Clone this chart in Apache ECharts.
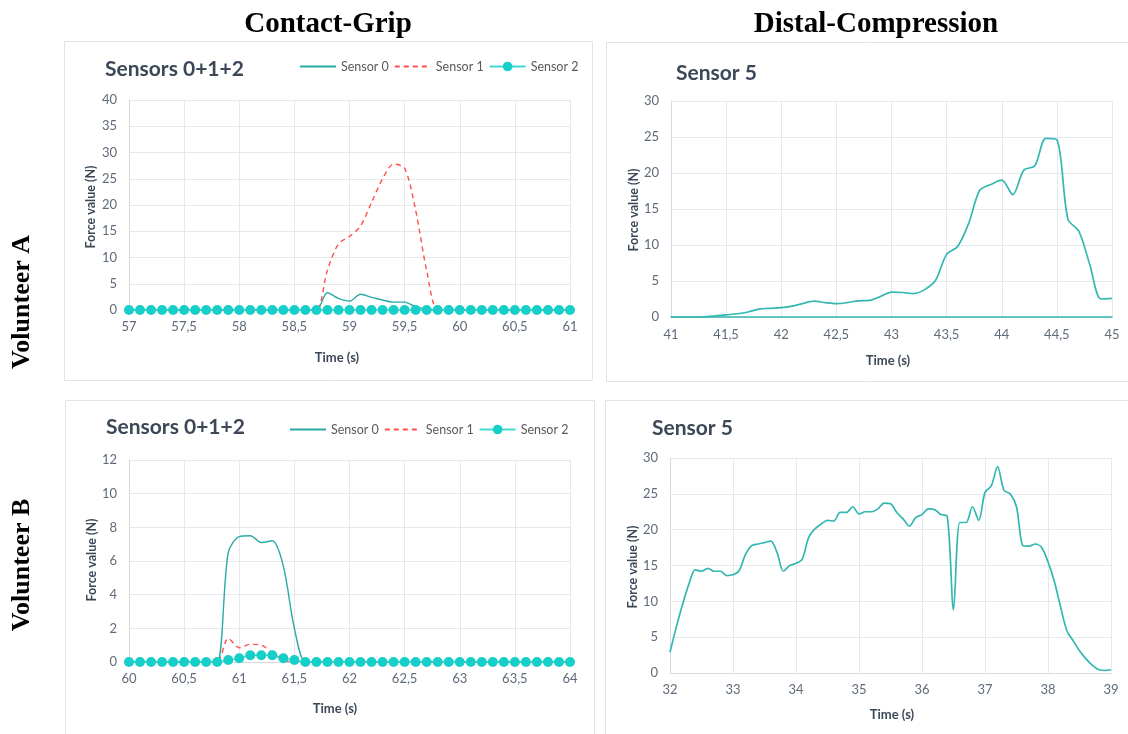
<!DOCTYPE html>
<html>
<head>
<meta charset="utf-8">
<title>Force sensors</title>
<script src="https://cdn.jsdelivr.net/npm/echarts@6/dist/echarts.min.js"></script>
<style>
html, body { margin: 0; padding: 0; background: #fff; }
#chart { width: 1128px; height: 734px; }
</style>
</head>
<body>
<div id="chart"></div>
<script>
// Volunteer A, contact-grip, 57.0 .. 61.0 s every 0.1 s
var gripA_s0 = [
    0, 0, 0, 0, 0, 0, 0, 0, 0, 0,
    0, 0, 0, 0, 0, 0, 0, 0, 3.3, 2.2,
    1.7, 3.0, 2.4, 1.9, 1.5, 1.5, 0.6, 0.2, 0, 0,
    0, 0, 0, 0, 0, 0, 0, 0, 0, 0,
    0
];
var gripA_s1 = [
    0, 0, 0, 0, 0, 0, 0, 0, 0, 0,
    0, 0, 0, 0, 0, 0, 0, 0, 7.6, 12.6,
    14.0, 16.0, 20.5, 25.0, 27.8, 27.0, 19.0, 7.5, 0, 0,
    0, 0, 0, 0, 0, 0, 0, 0, 0, 0,
    0
];
var gripA_s2 = [
    0, 0, 0, 0, 0, 0, 0, 0, 0, 0,
    0, 0, 0, 0, 0, 0, 0, 0, 0, 0,
    0, 0, 0, 0, 0, 0, 0, 0, 0, 0,
    0, 0, 0, 0, 0, 0, 0, 0, 0, 0,
    0
];

// Volunteer A, distal-compression, 41.0 .. 45.0 s
var distA_s5 = [
    0, 0, 0, 0.02, 0.15, 0.3, 0.45, 0.7, 1.1, 1.2,
    1.3, 1.5, 1.9, 2.2, 2.0, 1.85, 2.0, 2.25, 2.3, 2.85,
    3.45, 3.4, 3.25, 3.8, 5.1, 8.7, 9.8, 13.0, 17.6, 18.4,
    19.0, 17.0, 20.4, 21.0, 24.8, 24.6, 13.6, 11.9, 7.2, 2.5,
    2.6
];

// Volunteer B, contact-grip, 60.0 .. 64.0 s
var gripB_s0 = [
    0, 0, 0, 0, 0, 0, 0, 0, 0, 6.5,
    7.45, 7.5, 7.1, 7.2, 5.7, 2.0, 0, 0, 0, 0,
    0, 0, 0, 0, 0, 0, 0, 0, 0, 0,
    0, 0, 0, 0, 0, 0, 0, 0, 0, 0,
    0
];
var gripB_s1 = [
    0, 0, 0, 0, 0, 0, 0, 0, 0, 1.4,
    0.85, 1.05, 1.0, 0.55, 0.12, 0, 0, 0, 0, 0,
    0, 0, 0, 0, 0, 0, 0, 0, 0, 0,
    0, 0, 0, 0, 0, 0, 0, 0, 0, 0,
    0
];
var gripB_s2 = [
    0, 0, 0, 0, 0, 0, 0, 0, 0, 0.12,
    0.22, 0.4, 0.4, 0.4, 0.22, 0.12, 0, 0, 0, 0,
    0, 0, 0, 0, 0, 0, 0, 0, 0, 0,
    0, 0, 0, 0, 0, 0, 0, 0, 0, 0,
    0
];

// Volunteer B, distal-compression, 32.0 .. 39.0 s
var distB_s5 = [
    2.9, 6.4, 9.6, 12.4, 14.4, 14.2, 14.6, 14.2, 14.2, 13.6,
    13.7, 14.3, 16.6, 17.8, 18.0, 18.2, 18.4, 16.8, 14.2, 15.0,
    15.3, 15.9, 18.9, 20.1, 20.8, 21.3, 21.2, 22.4, 22.4, 23.2,
    22.2, 22.5, 22.5, 22.9, 23.7, 23.6, 22.4, 21.5, 20.5, 21.7,
    22.1, 22.9, 22.8, 22.1, 21.9, 8.8, 21.0, 21.0, 23.2, 21.3,
    25.2, 26.1, 28.8, 25.5, 25.0, 23.2, 17.8, 17.7, 18.0, 17.5,
    15.5, 12.8, 9.2, 5.9, 4.5, 3.1, 2.0, 1.1, 0.5, 0.35,
    0.45
];

var sensorNames = ['Sensor 0', 'Sensor 1', 'Sensor 2'];

// sample times, 0.1 s apart
function times(start, n) {
    var t = [];
    for (var i = 0; i < n; i++) t.push(Math.round((start + i * 0.1) * 10) / 10);
    return t;
}
function pairs(start, vals) {
    var t = times(start, vals.length);
    return vals.map(function (v, i) { return [t[i], v]; });
}

var FONT = 'Lato';
var gridColor = '#e5e8ed';
var labelColor = '#5f6b7a';
var c0 = '#2aaba5', c1 = '#ff4f4f', c2 = '#17cfc9', c5 = '#33b7b1';

function xAxis(idx, min, max, interval, margin, lineColor) {
    return {
        type: 'value', gridIndex: idx, min: min, max: max, interval: interval,
        axisLine: { show: true, onZero: false, lineStyle: { color: lineColor || '#d6dae0', width: lineColor ? 1.5 : 1 } },
        axisTick: { show: false },
        splitLine: { show: true, lineStyle: { color: gridColor } },
        axisLabel: {
            color: labelColor, fontFamily: FONT, fontSize: 13, margin: margin,
            formatter: function (v) { return String(v).replace('.', ','); }
        }
    };
}
function yAxis(idx, max, interval) {
    return {
        type: 'value', gridIndex: idx, min: 0, max: max, interval: interval,
        axisLine: { show: true, lineStyle: { color: '#d6dae0' } },
        axisTick: { show: false },
        splitLine: { show: true, lineStyle: { color: gridColor } },
        axisLabel: { color: labelColor, fontFamily: FONT, fontSize: 13, margin: 12 }
    };
}
// plain line: hidden symbol so the legend shows only the stroke
function lineSeries(name, data, idx, color, dashed, width) {
    return {
        name: name, type: 'line', xAxisIndex: idx, yAxisIndex: idx,
        data: data, smooth: 0.3, showSymbol: false,
        lineStyle: { color: color, width: width || 1.4, type: dashed ? [5, 4] : 'solid' },
        itemStyle: { color: color, opacity: 0 }
    };
}
function dotSeries(name, data, idx) {
    return {
        name: name, type: 'line', xAxisIndex: idx, yAxisIndex: idx,
        data: data, smooth: 0.3, symbol: 'circle', symbolSize: 10, showSymbol: true,
        lineStyle: { color: '#45d8d2', width: 1.4 },
        itemStyle: { color: c2 }
    };
}

function text(str, x, y, font, color, align, rot) {
    return {
        type: 'text', x: x, y: y, rotation: rot || 0,
        style: {
            text: str, font: font, fill: color,
            align: align || 'center', verticalAlign: 'middle',
            textAlign: align || 'center', textVerticalAlign: 'middle'
        }
    };
}
function box(x, y, w, h) {
    return {
        type: 'rect', z: -10,
        shape: { x: x + 0.5, y: y + 0.5, width: w, height: h },
        style: { fill: 'none', stroke: '#e1e4e9', lineWidth: 1 }
    };
}

var titleFont = 'bold 21px Lato';
var nameFont = 'bold 12.5px Lato';
var timeFont = 'bold 13px Lato';
var headFont = 'bold 29px "Liberation Serif"';
var sideFont = 'bold 26px "Liberation Serif"';
var dark = '#3c4858';

var legendBase = {
    data: sensorNames, orient: 'horizontal', itemWidth: 36, itemHeight: 12, itemGap: 5,
    textStyle: { color: '#5a5a5a', fontFamily: FONT, fontSize: 12.5 },
    padding: 0
};

var option = {
    animation: false,
    backgroundColor: '#fff',
    grid: [
        { left: 129, top: 100, width: 441, height: 210 },
        { left: 671, top: 101, width: 441, height: 216 },
        { left: 129, top: 460, width: 441, height: 202 },
        { left: 670, top: 458, width: 441, height: 215 }
    ],
    xAxis: [
        xAxis(0, 57, 61, 0.5, 10),
        xAxis(1, 41, 45, 0.5, 11, c5),
        xAxis(2, 60, 64, 0.5, 10),
        xAxis(3, 32, 39, 1, 10)
    ],
    yAxis: [
        yAxis(0, 40, 5),
        yAxis(1, 30, 5),
        yAxis(2, 12, 2),
        yAxis(3, 30, 5)
    ],
    legend: [
        Object.assign({ left: 299, top: 60 }, legendBase),
        Object.assign({ left: 289, top: 423 }, legendBase)
    ],
    series: [
        lineSeries('Sensor 0', pairs(57, gripA_s0), 0, c0, false),
        lineSeries('Sensor 1', pairs(57, gripA_s1), 0, c1, true),
        dotSeries('Sensor 2', pairs(57, gripA_s2), 0),
        lineSeries('Sensor 5', pairs(41, distA_s5), 1, c5, false, 1.7),
        lineSeries('Sensor 0', pairs(60, gripB_s0), 2, c0, false),
        lineSeries('Sensor 1', pairs(60, gripB_s1), 2, c1, true),
        dotSeries('Sensor 2', pairs(60, gripB_s2), 2),
        lineSeries('Sensor 5', pairs(32, distB_s5), 3, c5, false, 1.7)
    ],
    graphic: [
        box(64, 41, 528, 339),
        box(606, 42, 530, 339),
        box(65, 400, 529, 345),
        box(605, 400, 530, 345),
        text('Contact-Grip', 328, 25, headFont, '#000'),
        text('Distal-Compression', 876, 25, headFont, '#000'),
        text('Volunteer A', 22, 302, sideFont, '#000', 'center', Math.PI / 2),
        text('Volunteer B', 22, 565, sideFont, '#000', 'center', Math.PI / 2),
        text('Sensors 0+1+2', 105, 69, titleFont, dark, 'left'),
        text('Sensor 5', 676, 73, titleFont, dark, 'left'),
        text('Sensors 0+1+2', 106, 427, titleFont, dark, 'left'),
        text('Sensor 5', 652, 428, titleFont, dark, 'left'),
        text('Time (s)', 337, 358, timeFont, dark),
        text('Time (s)', 888, 361, timeFont, dark),
        text('Time (s)', 335, 709, timeFont, dark),
        text('Time (s)', 892, 715, timeFont, dark),
        text('Force value (N)', 91, 207, nameFont, dark, 'center', Math.PI / 2),
        text('Force value (N)', 634, 210, nameFont, dark, 'center', Math.PI / 2),
        text('Force value (N)', 92, 560, nameFont, dark, 'center', Math.PI / 2),
        text('Force value (N)', 633, 567, nameFont, dark, 'center', Math.PI / 2)
    ]
};

var chartDom = document.getElementById('chart');
var myChart = echarts.init(chartDom);
myChart.setOption(option);
</script>
</body>
</html>
